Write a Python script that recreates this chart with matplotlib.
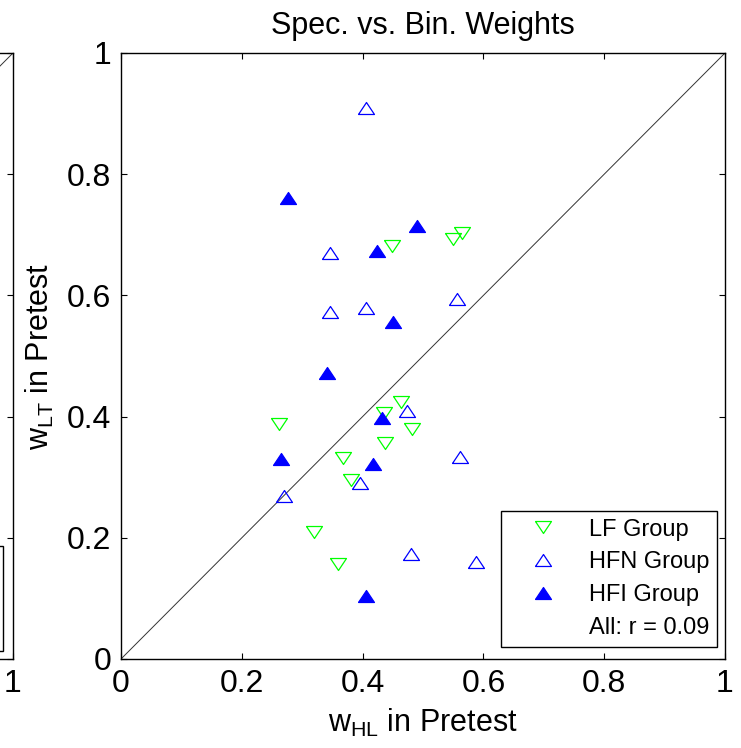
import matplotlib
matplotlib.use("Agg")
import matplotlib.pyplot as plt
from matplotlib.lines import Line2D
from matplotlib.patches import Rectangle

plt.rcParams['font.family'] = ['Liberation Sans', 'DejaVu Sans']
plt.rcParams['mathtext.fontset'] = 'custom'
plt.rcParams['mathtext.rm'] = 'Liberation Sans'
plt.rcParams['mathtext.it'] = 'Liberation Sans'
plt.rcParams['mathtext.bf'] = 'Liberation Sans'

# ---- data ----
lf_x = [0.449, 0.550, 0.565, 0.464, 0.435, 0.262, 0.482, 0.437, 0.368, 0.381, 0.320, 0.359]
lf_y = [0.682, 0.693, 0.703, 0.424, 0.406, 0.388, 0.380, 0.356, 0.332, 0.295, 0.210, 0.157]

hfn_x = [0.406, 0.346, 0.556, 0.346, 0.406, 0.474, 0.561, 0.396, 0.270, 0.480, 0.588]
hfn_y = [0.909, 0.670, 0.594, 0.573, 0.579, 0.409, 0.333, 0.290, 0.269, 0.173, 0.160]

hfi_x = [0.276, 0.490, 0.424, 0.450, 0.341, 0.432, 0.265, 0.417, 0.406]
hfi_y = [0.761, 0.715, 0.673, 0.556, 0.472, 0.398, 0.330, 0.322, 0.104]

ticks = [0, 0.2, 0.4, 0.6, 0.8, 1]
tick_labels = ['0', '0.2', '0.4', '0.6', '0.8', '1']
legend_labels = ['LF Group', 'HFN Group', 'HFI Group', 'All: r = 0.09']
title = 'Spec. vs. Bin. Weights'

# ---- styling ----
W, H = 741, 748
fig = plt.figure(figsize=(W / 100, H / 100), dpi=100)

up_tri = [(-1, -0.75), (1, -0.75), (0, 0.75), (-1, -0.75)]
down_tri = [(-1, 0.75), (1, 0.75), (0, -0.75), (-1, 0.75)]
green = '#00FF00'
blue = '#0000FF'
ms = 11.5
tick_fs = 23
leg_fs = 17

ax_l, ax_r, ax_t, ax_b = 121, 725, 53, 659


def style_axes(ax):
    ax.set_xlim(0, 1)
    ax.set_ylim(0, 1)
    ax.set_xticks(ticks)
    ax.set_yticks(ticks)
    ax.set_xticklabels(tick_labels)
    ax.set_yticklabels(tick_labels)
    ax.tick_params(direction='in', length=4, width=0.8, top=True, right=True,
                   labelsize=tick_fs, pad=7)
    for s in ax.spines.values():
        s.set_linewidth(1.0)
    ax.plot([0, 1], [0, 1], color='#333333', lw=0.7, zorder=1)


# partially visible left subplot (only its right edge is inside the figure)
left_ax = fig.add_axes([(13 - (ax_r - ax_l)) / W, 1 - ax_b / H,
                        (ax_r - ax_l) / W, (ax_b - ax_t) / H])
style_axes(left_ax)
left_ax.set_yticklabels([])
left_ax.set_xticklabels(['', '', '', '', '', '1'])
# right edge of that subplot's legend box
left_ax.add_patch(Rectangle((-60 / W, 1 - 651 / H), 63 / W, 105 / H,
                            transform=fig.transFigure, fill=False,
                            edgecolor='black', lw=1.0, clip_on=False))

# main axes
ax = fig.add_axes([ax_l / W, 1 - ax_b / H, (ax_r - ax_l) / W, (ax_b - ax_t) / H])
style_axes(ax)

h_lf, = ax.plot(lf_x, lf_y, ls='none', marker=down_tri, ms=ms, mfc='none',
                mec=green, mew=0.9, zorder=3)
h_hfn, = ax.plot(hfn_x, hfn_y, ls='none', marker=up_tri, ms=ms, mfc='none',
                 mec=blue, mew=0.9, zorder=3)
h_hfi, = ax.plot(hfi_x, hfi_y, ls='none', marker=up_tri, ms=ms, mfc=blue,
                 mec=blue, mew=0.9, zorder=3)
h_all = Line2D([], [], ls='none', marker='none')

leg = ax.legend([h_lf, h_hfn, h_hfi, h_all], legend_labels, loc='lower right',
                bbox_to_anchor=(717 / W, 1 - 647 / H), bbox_transform=fig.transFigure,
                borderaxespad=0, fancybox=False, framealpha=1, edgecolor='black',
                fontsize=leg_fs, borderpad=0.33, labelspacing=0.46,
                handlelength=2.95, handletextpad=0.45)
leg.get_frame().set_linewidth(1.0)

ax.set_title(title, fontsize=22, pad=14)
ax.set_xlabel(r'$\mathrm{w}_{\mathrm{HL}}$ in Pretest', fontsize=tick_fs - 1, labelpad=6)
ax.set_ylabel(r'$\mathrm{w}_{\mathrm{LT}}$ in Pretest', fontsize=tick_fs - 1, labelpad=8)

fig.savefig('out.png', dpi=100)
